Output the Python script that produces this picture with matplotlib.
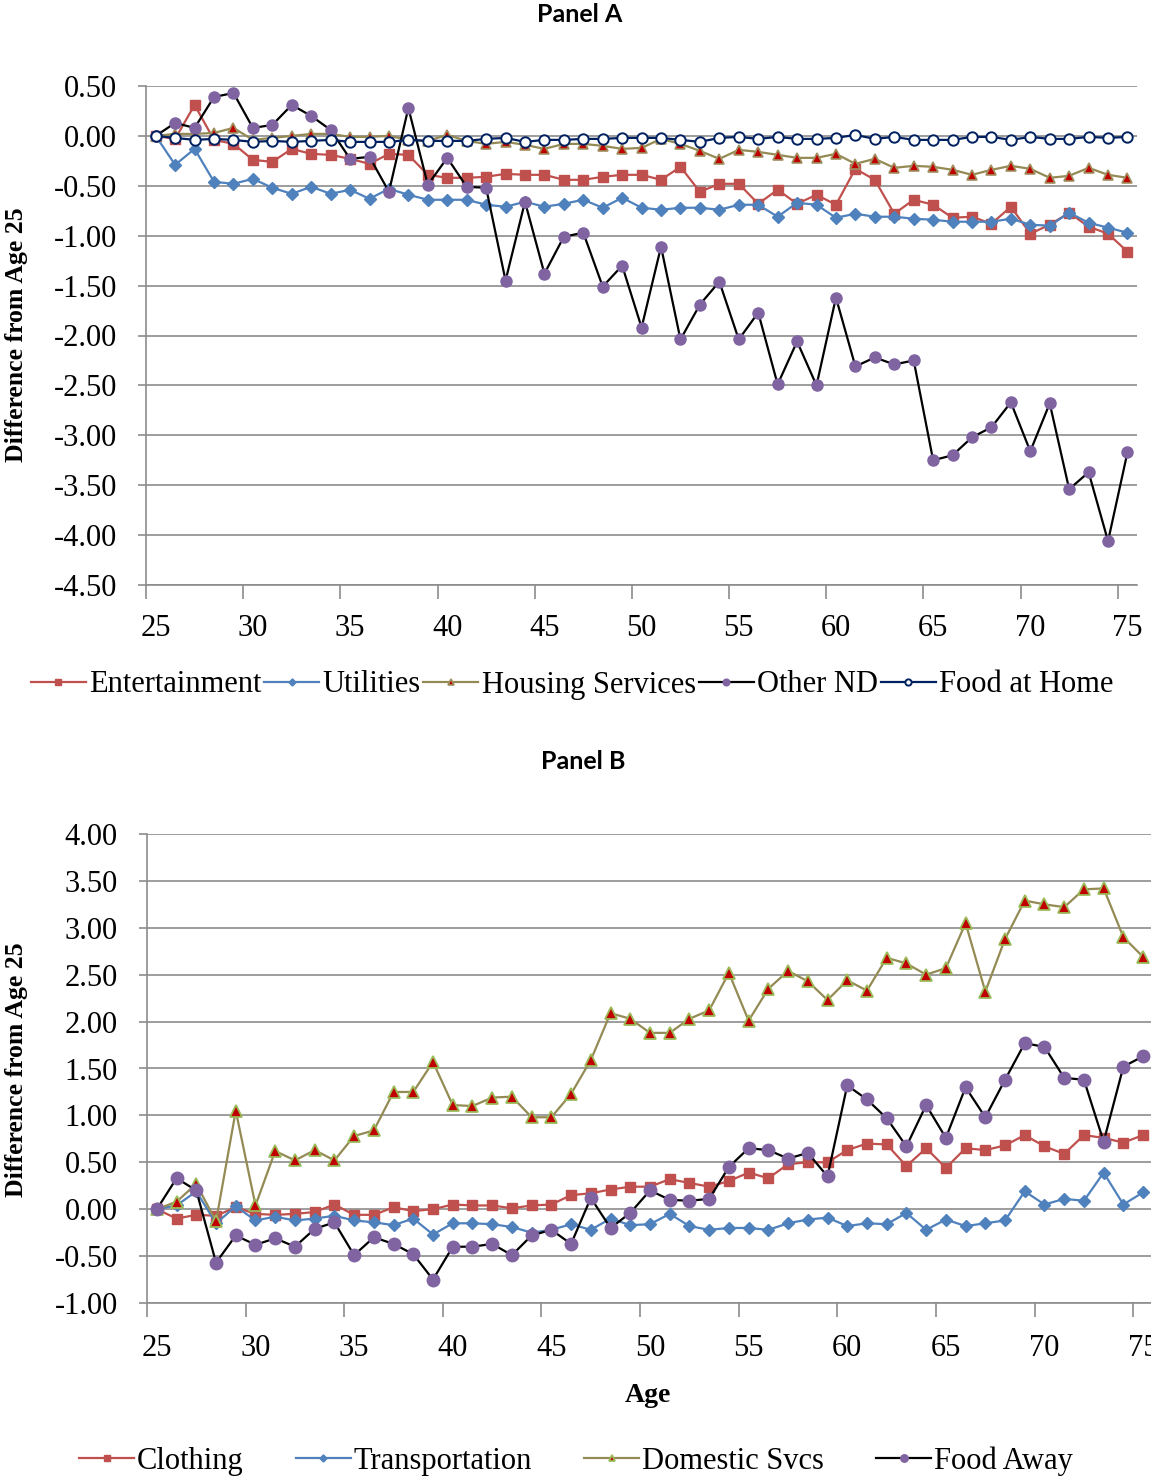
import matplotlib
matplotlib.use("Agg")
import matplotlib.pyplot as plt

plt.rcParams["font.family"] = ["Liberation Serif", "DejaVu Serif"]
plt.rcParams["axes.unicode_minus"] = False

ages = list(range(25, 76))

# Panel A series (difference from age 25)
entertainment = [0.00, -0.03, 0.31, -0.04, -0.08, -0.24, -0.26, -0.13, -0.18, -0.19,
                 -0.23, -0.28, -0.18, -0.19, -0.39, -0.42, -0.42, -0.41, -0.38, -0.39,
                 -0.39, -0.44, -0.44, -0.41, -0.39, -0.39, -0.44, -0.31, -0.56, -0.48,
                 -0.48, -0.68, -0.54, -0.68, -0.59, -0.69, -0.33, -0.44, -0.78, -0.64,
                 -0.69, -0.82, -0.81, -0.88, -0.71, -0.98, -0.89, -0.77, -0.91, -0.98,
                 -1.16]
utilities = [0.00, -0.29, -0.13, -0.46, -0.48, -0.43, -0.52, -0.58, -0.51, -0.58,
             -0.54, -0.63, -0.53, -0.59, -0.64, -0.64, -0.64, -0.69, -0.71, -0.66,
             -0.71, -0.68, -0.64, -0.72, -0.62, -0.72, -0.74, -0.72, -0.72, -0.74,
             -0.69, -0.69, -0.81, -0.67, -0.69, -0.82, -0.78, -0.81, -0.81, -0.83,
             -0.84, -0.86, -0.86, -0.86, -0.83, -0.89, -0.90, -0.77, -0.87, -0.92,
             -0.97]
housing = [0.00, 0.02, 0.02, 0.03, 0.08, -0.04, -0.02, 0.00, 0.02, 0.02,
           -0.01, -0.01, 0.00, -0.04, -0.05, 0.01, -0.05, -0.08, -0.06, -0.09,
           -0.13, -0.08, -0.08, -0.10, -0.13, -0.12, -0.03, -0.08, -0.15, -0.23,
           -0.14, -0.16, -0.19, -0.22, -0.22, -0.18, -0.28, -0.23, -0.32, -0.30,
           -0.31, -0.34, -0.39, -0.34, -0.30, -0.33, -0.42, -0.40, -0.32, -0.39,
           -0.42]
other_nd = [0.00, 0.13, 0.08, 0.39, 0.43, 0.08, 0.11, 0.31, 0.20, 0.06,
            -0.23, -0.21, -0.56, 0.28, -0.49, -0.22, -0.51, -0.52, -1.45, -0.66,
            -1.38, -1.01, -0.97, -1.51, -1.30, -1.92, -1.11, -2.04, -1.69, -1.46,
            -2.04, -1.77, -2.49, -2.06, -2.50, -1.62, -2.31, -2.22, -2.29, -2.25,
            -3.25, -3.20, -3.02, -2.92, -2.67, -3.16, -2.68, -3.54, -3.37, -4.06,
            -3.17]
food_home = [0.00, -0.02, -0.04, -0.03, -0.04, -0.06, -0.05, -0.06, -0.05, -0.04,
             -0.06, -0.06, -0.06, -0.04, -0.05, -0.05, -0.05, -0.03, -0.02, -0.06,
             -0.04, -0.04, -0.03, -0.03, -0.02, -0.02, -0.02, -0.04, -0.06, -0.02,
             -0.01, -0.03, -0.01, -0.03, -0.03, -0.02, 0.01, -0.03, -0.01, -0.04,
             -0.04, -0.04, -0.01, -0.01, -0.04, -0.01, -0.03, -0.03, -0.01, -0.02,
             -0.01]

# Panel B series
clothing = [0.00, -0.10, -0.06, -0.07, 0.02, -0.05, -0.06, -0.05, -0.03, 0.05,
            -0.06, -0.06, 0.02, -0.02, 0.00, 0.05, 0.04, 0.04, 0.01, 0.04,
            0.05, 0.15, 0.17, 0.21, 0.24, 0.24, 0.32, 0.28, 0.24, 0.30,
            0.39, 0.33, 0.48, 0.50, 0.50, 0.63, 0.70, 0.69, 0.46, 0.65,
            0.44, 0.65, 0.63, 0.68, 0.79, 0.67, 0.59, 0.79, 0.76, 0.71,
            0.79]
transportation = [0.00, 0.04, 0.19, -0.15, 0.03, -0.12, -0.08, -0.12, -0.10, -0.07,
                  -0.12, -0.14, -0.17, -0.10, -0.27, -0.15, -0.15, -0.16, -0.19, -0.25,
                  -0.22, -0.16, -0.22, -0.10, -0.17, -0.16, -0.05, -0.18, -0.22, -0.20,
                  -0.20, -0.22, -0.15, -0.11, -0.09, -0.18, -0.15, -0.16, -0.04, -0.22,
                  -0.11, -0.18, -0.15, -0.12, 0.19, 0.05, 0.11, 0.09, 0.39, 0.05,
                  0.18]
domestic = [0.00, 0.08, 0.27, -0.13, 1.05, 0.04, 0.62, 0.52, 0.63, 0.52,
            0.78, 0.84, 1.25, 1.25, 1.57, 1.11, 1.10, 1.19, 1.20, 0.98,
            0.98, 1.23, 1.59, 2.09, 2.03, 1.88, 1.88, 2.03, 2.12, 2.52,
            2.01, 2.35, 2.54, 2.43, 2.23, 2.44, 2.33, 2.68, 2.62, 2.50,
            2.57, 3.05, 2.32, 2.88, 3.29, 3.25, 3.22, 3.41, 3.42, 2.90,
            2.69]
food_away = [0.00, 0.33, 0.20, -0.57, -0.28, -0.38, -0.31, -0.40, -0.21, -0.14,
             -0.49, -0.30, -0.37, -0.48, -0.75, -0.40, -0.40, -0.37, -0.49, -0.28,
             -0.22, -0.37, 0.12, -0.20, -0.04, 0.20, 0.10, 0.09, 0.11, 0.45,
             0.65, 0.63, 0.54, 0.60, 0.35, 1.32, 1.17, 0.97, 0.67, 1.11,
             0.76, 1.30, 0.98, 1.38, 1.77, 1.73, 1.40, 1.38, 0.72, 1.52,
             1.63]

yticks_a = [0.5, 0.0, -0.5, -1.0, -1.5, -2.0, -2.5, -3.0, -3.5, -4.0, -4.5]
yticks_b = [4.0, 3.5, 3.0, 2.5, 2.0, 1.5, 1.0, 0.5, 0.0, -0.5, -1.0]
xticks = [25, 30, 35, 40, 45, 50, 55, 60, 65, 70, 75]

RED = "#C0504D"
BLUE = "#4F81BD"
OLIVE = "#948A54"
PURPLE = "#8064A2"
NAVY = "#002060"
GRID = "#8C8C8C"

W, H = 1151, 1480
fig = plt.figure(figsize=(W / 100, H / 100), dpi=100)

axA = fig.add_axes([146 / W, 1 - 585 / H, (1137 - 146) / W, (585 - 86) / H])
axB = fig.add_axes([147 / W, 1 - 1303 / H, (1151 - 147) / W, (1303 - 834) / H])

lw = 1.6
# Panel A
axA.plot(ages, entertainment, color=RED, lw=lw, marker="s", ms=6.5,
         mfc=RED, mec=RED, label="Entertainment")
axA.plot(ages, utilities, color=BLUE, lw=lw, marker="D", ms=6,
         mfc=BLUE, mec=BLUE, label="Utilities")
axA.plot(ages, housing, color=OLIVE, lw=lw, marker="^", ms=7.5,
         mfc="#C00000", mec="#A09060", mew=1.2, label="Housing Services")
axA.plot(ages, other_nd, color="black", lw=lw, marker="o", ms=8,
         mfc=PURPLE, mec=PURPLE, label="Other ND")
axA.plot(ages, food_home, color=NAVY, lw=lw, marker="o", ms=7.5,
         mfc="white", mec=NAVY, mew=1.4, label="Food at Home")

# Panel B
axB.plot(ages, clothing, color=RED, lw=lw, marker="s", ms=6.5,
         mfc=RED, mec=RED, label="Clothing")
axB.plot(ages, transportation, color=BLUE, lw=lw, marker="D", ms=6,
         mfc=BLUE, mec=BLUE, label="Transportation")
axB.plot(ages, domestic, color=OLIVE, lw=lw, marker="^", ms=8,
         mfc="#C00000", mec="#9BBB59", mew=1.3, label="Domestic Svcs")
axB.plot(ages, food_away, color="black", lw=lw, marker="o", ms=9,
         mfc=PURPLE, mec=PURPLE, label="Food Away")

for ax, yt, xlim, pad in [(axA, yticks_a, (24.64, 75.49), 21),
                          (axB, yticks_b, (24.6, 75.4), 22)]:
    ax.set_xlim(*xlim)
    ax.set_ylim(min(yt), max(yt))
    ax.set_yticks(yt)
    ax.set_yticklabels([f"{v:.2f}" for v in yt])
    ax.set_xticks(xticks)
    ax.set_xticklabels([str(v) for v in xticks])
    ax.set_xticks([v - 0.5 for v in xticks], minor=True)
    ax.tick_params(axis="x", which="major", length=0, pad=pad, labelsize=22)
    ax.tick_params(axis="x", which="minor", length=10, width=1.2, color=GRID)
    ax.tick_params(axis="y", length=6, width=1.2, color=GRID, pad=15, labelsize=22)
    ax.grid(axis="y", color=GRID, lw=1.2)
    ax.set_axisbelow(True)
    for side in ["top", "right"]:
        ax.spines[side].set_visible(False)
    for side in ["left", "bottom"]:
        ax.spines[side].set_color(GRID)
        ax.spines[side].set_linewidth(1.2)

fig.text(580 / W, 1 - 15 / H, "Panel A", ha="center", va="center",
         fontsize=18, fontweight="bold", family=["Lato", "DejaVu Sans"])
fig.text(583 / W, 1 - 762 / H, "Panel B", ha="center", va="center",
         fontsize=18, fontweight="bold", family=["Lato", "DejaVu Sans"])

fig.text(17 / W, 1 - 335 / H, "Difference from Age 25", rotation=90,
         ha="center", va="center", fontsize=18.5, fontweight="bold")
fig.text(17 / W, 1 - 1070 / H, "Difference from Age 25", rotation=90,
         ha="center", va="center", fontsize=18.5, fontweight="bold")
fig.text(648 / W, 1 - 1395 / H, "Age", ha="center", va="center",
         fontsize=20, fontweight="bold")

hA, lA = axA.get_legend_handles_labels()
fig.legend(hA, lA, loc="center", bbox_to_anchor=(572 / W, 1 - 685 / H),
           ncol=5, frameon=False, fontsize=22, handlelength=1.8,
           handletextpad=0.1, columnspacing=0.1, markerscale=0.6,
           borderpad=0, borderaxespad=0)
hB, lB = axB.get_legend_handles_labels()
fig.legend(hB, lB, loc="center", bbox_to_anchor=(576 / W, 1 - 1461 / H),
           ncol=4, frameon=False, fontsize=22, handlelength=1.8,
           handletextpad=0.1, columnspacing=1.7, markerscale=0.6,
           borderpad=0, borderaxespad=0)

fig.savefig("out.png", dpi=100)
